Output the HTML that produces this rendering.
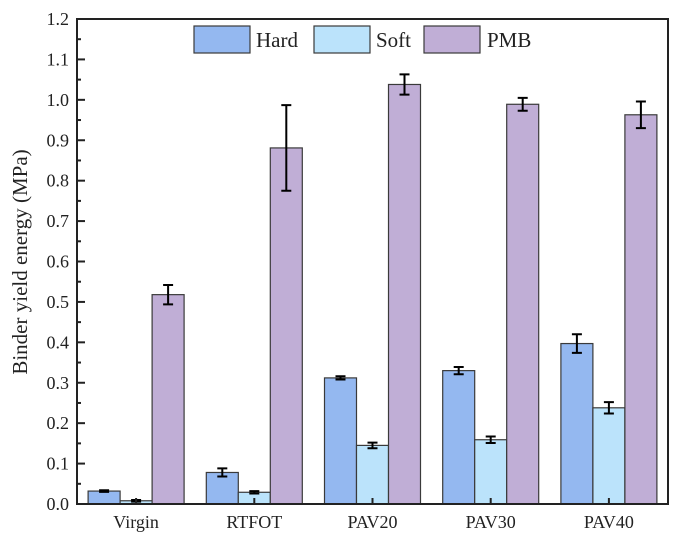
<!DOCTYPE html>
<html><head><meta charset="utf-8"><style>
body{margin:0;background:#fff;}
svg{display:block;font-family:"Liberation Serif",serif;}
</style></head><body>
<svg id="chart" width="685" height="541" viewBox="0 0 685 541" xmlns="http://www.w3.org/2000/svg"></svg>
<script>
const categories = ["Virgin","RTFOT","PAV20","PAV30","PAV40"];
const seriesNames = ["Hard","Soft","PMB"];
const hardValues = [0.032,0.078,0.312,0.330,0.397];
const hardErrors = [0.002,0.010,0.004,0.009,0.023];
const softValues = [0.008,0.029,0.145,0.159,0.238];
const softErrors = [0.002,0.003,0.007,0.008,0.014];
const pmbValues = [0.518,0.881,1.038,0.989,0.963];
const pmbErrors = [0.024,0.106,0.025,0.016,0.033];
const yTicks = ["0.0","0.1","0.2","0.3","0.4","0.5","0.6","0.7","0.8","0.9","1.0","1.1","1.2"];

const NS="http://www.w3.org/2000/svg";
const svg=document.getElementById('chart');
const L=77,R=668,T=19,B=504,YMAX=1.2;
const colors=["#94b8f0","#bbe3fb","#c0aed6"];
const y=v=>B-(v/YMAX)*(B-T);
const band=(R-L)/categories.length;
const xc=i=>L+band*(i+0.5);
const bw=32;
function mk(tag,attrs){const e=document.createElementNS(NS,tag);for(const k in attrs)e.setAttribute(k,attrs[k]);svg.appendChild(e);return e;}

const allV=[hardValues,softValues,pmbValues], allE=[hardErrors,softErrors,pmbErrors];
allV.forEach((vals,s)=>{
  vals.forEach((v,i)=>{
    const x0=xc(i)+(s-1.5)*bw;
    const r=mk('rect',{x:x0,y:y(v),width:bw,height:B-y(v),fill:colors[s],stroke:"#3a3a3a","stroke-width":1.2});
    
    
    const e=allE[s][i], cx=x0+bw/2;
    const g=mk('path',{d:`M${cx},${y(v+e)}V${y(v-e)}M${cx-5},${y(v+e)}H${cx+5}M${cx-5},${y(v-e)}H${cx+5}`,stroke:"#000","stroke-width":2,fill:"none"});
    
    
  });
});
// axes frame
const fr=mk('rect',{x:L,y:T,width:R-L,height:B-T,fill:"none",stroke:"#222","stroke-width":2});


yTicks.forEach((t,i)=>{
  const v=parseFloat(t), yy=y(v);
  mk('line',{x1:L,x2:L+8,y1:yy,y2:yy,stroke:"#222","stroke-width":2});
  if(i<yTicks.length-1){const ym=y(v+0.05);mk('line',{x1:L,x2:L+4,y1:ym,y2:ym,stroke:"#222","stroke-width":2});}
  const tx=mk('text',{x:L-8,y:yy+6,"text-anchor":"end","font-size":18,fill:"#222"});
  tx.textContent=t;
  
  
});
categories.forEach((c,i)=>{
  mk('line',{x1:xc(i),x2:xc(i),y1:B,y2:B-6,stroke:"#222","stroke-width":2});
  const tx=mk('text',{x:xc(i),y:B+24,"text-anchor":"middle","font-size":18,fill:"#222"});
  tx.textContent=c;
  
  
});
const yl=mk('text',{x:0,y:0,transform:"translate(27,262) rotate(-90)","text-anchor":"middle","font-size":21,fill:"#222"});
yl.textContent="Binder yield energy (MPa)";


// legend
const lx=[194,314,424], tx=[256,376,487];
seriesNames.forEach((n,s)=>{
  const r=mk('rect',{x:lx[s],y:26,width:56,height:27,fill:colors[s],stroke:"#3a3a3a","stroke-width":1.2});
  
  
  const t=mk('text',{x:tx[s],y:47,"font-size":21,fill:"#222"});
  t.textContent=n;
  
  
});
</script>
</body></html>
